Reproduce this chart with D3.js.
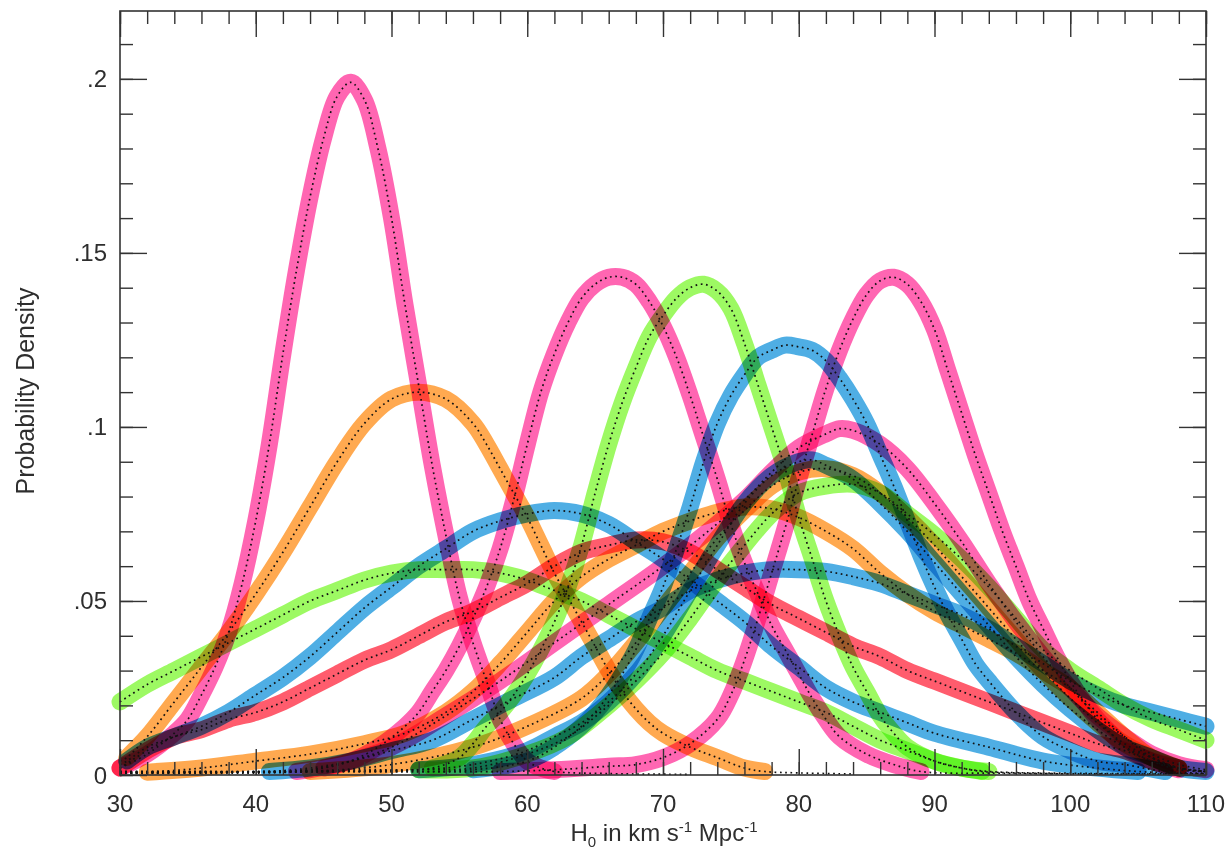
<!DOCTYPE html>
<html><head><meta charset="utf-8">
<script src="https://cdn.jsdelivr.net/npm/d3@7"></script>
<style>
body{margin:0;background:#fff}
svg{display:block}
text{font-family:"Liberation Sans",Arial,Helvetica,sans-serif;fill:#2e2e2e}
</style>
</head><body>
<svg id="chart" width="1230" height="858"></svg>
<script>
// ---- data (H0 value, probability density) ----
const xTicks = [30,40,50,60,70,80,90,100,110];
const yTicks = [0,0.05,0.1,0.15,0.2];
const yTickLabels = ["0",".05",".1",".15",".2"];

const pink1 = [[30,0.002],[32,0.006],[34,0.012],[35,0.016],[36,0.023],[37,0.031],[38,0.041],[39,0.055],[40,0.073],[41,0.095],[42,0.121],[43,0.145],[44,0.166],[45,0.183],[46,0.195],[47,0.199],[48,0.194],[49,0.180],[50,0.160],[51,0.135],[52,0.112],[53,0.089],[54,0.069],[55,0.051],[56,0.038],[57,0.027],[58,0.016],[59,0.009],[60,0.004],[61,0.002],[62,0.001],[66,0.0004],[72,0.0002]];
const orange1 = [[30,0.004],[30.5,0.005],[32,0.011],[34,0.021],[36,0.031],[38,0.041],[40,0.052],[42,0.064],[44,0.077],[46,0.090],[48,0.101],[50,0.108],[52,0.110],[54,0.108],[56,0.101],[57,0.095],[58,0.088],[59,0.081],[60,0.074],[61,0.066],[62,0.058],[63,0.051],[64,0.044],[65,0.037],[66,0.030],[67,0.024],[68,0.019],[69,0.015],[70,0.012],[72,0.008],[74,0.005],[76,0.002],[77.5,0.001],[80,0.0006],[84,0.0003]];
const green1 = [[30,0.021],[32,0.026],[34,0.030],[36,0.034],[38,0.038],[40,0.042],[42,0.046],[44,0.050],[46,0.053],[48,0.056],[50,0.058],[52,0.059],[54,0.059],[56,0.059],[58,0.058],[60,0.056],[62,0.053],[64,0.050],[66,0.046],[68,0.042],[70,0.038],[72,0.034],[74,0.030],[76,0.027],[78,0.024],[80,0.021],[82,0.018],[84,0.014],[86,0.010],[88,0.007],[90,0.004],[92,0.002],[93.5,0.001],[96,0.0006],[100,0.0003]];
const blue1 = [[30,0.003],[30.5,0.004],[32,0.008],[34,0.011],[36,0.014],[38,0.018],[40,0.023],[42,0.028],[44,0.034],[46,0.041],[48,0.048],[50,0.054],[52,0.060],[54,0.065],[56,0.070],[58,0.073],[60,0.075],[62,0.076],[64,0.075],[66,0.072],[68,0.067],[70,0.062],[72,0.056],[74,0.050],[76,0.044],[78,0.037],[80,0.031],[82,0.025],[84,0.021],[86,0.018],[88,0.015],[90,0.012],[94,0.008],[98,0.004],[102,0.002],[105,0.001],[108,0.0005]];
const red1 = [[30,0.002],[32,0.007],[34,0.011],[36,0.013],[38,0.016],[40,0.018],[42,0.021],[44,0.025],[46,0.029],[48,0.033],[50,0.036],[52,0.040],[54,0.044],[56,0.047],[58,0.051],[60,0.055],[62,0.060],[64,0.064],[66,0.066],[68,0.0675],[70,0.067],[72,0.064],[74,0.059],[76,0.054],[78,0.049],[80,0.045],[82,0.041],[84,0.037],[86,0.034],[88,0.030],[90,0.027],[92,0.024],[94,0.021],[96,0.018],[98,0.015],[100,0.012],[102,0.009],[104,0.007],[106,0.004],[108,0.002],[110,0.001]];
const pink2 = [[30,0.0005],[38,0.0008],[42,0.001],[45,0.002],[47,0.004],[49,0.008],[51,0.014],[52,0.018],[53,0.024],[54,0.030],[55,0.037],[56,0.045],[57,0.054],[58,0.065],[59,0.079],[60,0.095],[61,0.110],[62,0.121],[63,0.130],[64,0.137],[65,0.141],[66,0.143],[67,0.143],[68,0.141],[69,0.136],[70,0.129],[71,0.120],[72,0.109],[73,0.097],[74,0.085],[75,0.072],[76,0.061],[77,0.052],[78,0.043],[79,0.036],[80,0.029],[81,0.022],[82,0.016],[83,0.011],[85,0.006],[87,0.003],[89,0.001],[95,0.0005],[110,0.0002]];
const green2 = [[30,0.001],[40,0.001],[48,0.0015],[53,0.002],[55,0.005],[56,0.009],[57,0.014],[58,0.018],[59,0.023],[60,0.029],[61,0.036],[62,0.044],[63,0.054],[64,0.066],[65,0.081],[66,0.095],[67,0.107],[68,0.117],[69,0.126],[70,0.132],[71,0.137],[72,0.140],[73,0.141],[74,0.139],[75,0.134],[76,0.124],[77,0.112],[78,0.100],[79,0.088],[80,0.074],[81,0.062],[82,0.050],[83,0.040],[84,0.031],[85,0.024],[86,0.017],[87,0.012],[88,0.008],[90,0.004],[92,0.002],[94,0.001],[100,0.0005],[110,0.0003]];
const blue2 = [[30,0.001],[45,0.001],[56,0.0015],[60,0.004],[62,0.008],[64,0.014],[65,0.018],[66,0.023],[67,0.029],[68,0.036],[69,0.045],[70,0.054],[71,0.065],[72,0.077],[73,0.090],[74,0.101],[75,0.109],[76,0.115],[77,0.120],[78,0.122],[79,0.1235],[80,0.123],[81,0.122],[82,0.119],[83,0.114],[84,0.108],[85,0.101],[86,0.092],[87,0.083],[88,0.073],[89,0.063],[90,0.054],[91,0.046],[92,0.039],[93,0.032],[94,0.027],[96,0.018],[98,0.011],[100,0.007],[102,0.004],[104,0.003],[107,0.001],[110,0.0005]];
const pink3 = [[30,0.0008],[45,0.001],[58,0.001],[62,0.0015],[66,0.0025],[68,0.003],[70,0.005],[72,0.009],[74,0.016],[75,0.023],[76,0.033],[77,0.045],[78,0.058],[79,0.071],[80,0.085],[81,0.098],[82,0.111],[83,0.122],[84,0.131],[85,0.138],[86,0.142],[87,0.143],[88,0.141],[89,0.136],[90,0.128],[91,0.116],[92,0.104],[93,0.092],[94,0.081],[95,0.070],[96,0.060],[97,0.050],[98,0.042],[99,0.034],[100,0.027],[101,0.021],[102,0.016],[103,0.012],[104,0.008],[106,0.004],[108,0.0015],[110,0.001]];
const pink4 = [[30,0.0005],[38,0.0005],[43,0.001],[46,0.003],[50,0.008],[54,0.017],[58,0.027],[62,0.038],[66,0.049],[70,0.060],[73,0.069],[76,0.079],[78,0.087],[80,0.094],[82,0.098],[83,0.0995],[84,0.099],[86,0.095],[88,0.088],[90,0.078],[92,0.067],[94,0.055],[96,0.044],[98,0.034],[100,0.025],[102,0.017],[104,0.011],[106,0.006],[108,0.003],[110,0.0015]];
const blue3 = [[30,0.001],[45,0.001],[52,0.0015],[56,0.003],[60,0.007],[62,0.011],[64,0.015],[66,0.021],[68,0.029],[70,0.040],[72,0.053],[74,0.066],[76,0.078],[78,0.086],[80,0.090],[81,0.0905],[82,0.089],[84,0.085],[86,0.078],[88,0.070],[90,0.061],[92,0.052],[94,0.043],[96,0.034],[98,0.026],[100,0.019],[102,0.013],[104,0.008],[106,0.005],[108,0.002],[110,0.001]];
const green3 = [[30,0.0008],[45,0.001],[52,0.0015],[56,0.002],[60,0.006],[63,0.011],[66,0.020],[68,0.027],[70,0.035],[72,0.045],[74,0.056],[76,0.066],[78,0.075],[80,0.081],[82,0.083],[84,0.0835],[86,0.081],[88,0.075],[90,0.069],[92,0.062],[94,0.054],[96,0.045],[98,0.036],[100,0.030],[102,0.025],[104,0.020],[106,0.016],[108,0.013],[110,0.010]];
const orange2 = [[30,0.0005],[32,0.0008],[36,0.002],[40,0.004],[44,0.006],[48,0.009],[51,0.012],[54,0.018],[56,0.024],[58,0.032],[60,0.041],[62,0.050],[64,0.057],[66,0.062],[68,0.066],[70,0.070],[72,0.073],[74,0.0755],[76,0.077],[78,0.0765],[80,0.074],[82,0.070],[84,0.065],[86,0.058],[88,0.052],[90,0.047],[92,0.043],[94,0.039],[96,0.035],[98,0.030],[100,0.025],[102,0.018],[104,0.011],[106,0.005],[108,0.002],[110,0.001]];
const orange3 = [[30,0.0005],[40,0.0008],[44,0.001],[50,0.003],[56,0.008],[60,0.014],[64,0.022],[66,0.029],[68,0.038],[70,0.048],[72,0.058],[74,0.068],[76,0.076],[78,0.083],[80,0.087],[82,0.088],[84,0.086],[86,0.081],[88,0.074],[90,0.066],[92,0.057],[94,0.048],[96,0.039],[98,0.030],[100,0.022],[102,0.015],[104,0.009],[106,0.005],[108,0.002],[110,0.001]];
const blue4 = [[30,0.0005],[38,0.0008],[41,0.001],[44,0.002],[47,0.004],[50,0.007],[53,0.010],[56,0.016],[59,0.022],[62,0.028],[64,0.034],[66,0.039],[68,0.044],[70,0.048],[72,0.053],[74,0.056],[76,0.058],[78,0.059],[80,0.059],[82,0.0585],[84,0.057],[86,0.055],[88,0.052],[90,0.049],[92,0.046],[94,0.042],[96,0.037],[98,0.032],[100,0.027],[102,0.023],[104,0.020],[106,0.018],[108,0.016],[110,0.014]];

// x-range over which each curve was highlighted with marker colour
const seriesData   = [green1,blue1,red1,orange1,pink1,orange2,blue4,orange3,pink4,green3,blue3,green2,blue2,pink2,pink3];
const seriesColors = ["green","blue","red","orange","pink","orange","blue","orange","pink","green","blue","green","blue","pink","pink"];
const markedRanges = [[30,93.5],[30.5,105],[30,108],[30.5,77.5],[30,62],[32,108],[41,110],[44,108],[43,110],[52,110],[52,110],[53,94],[56,107],[45,89],[58,109]];

const palette = {pink:"#ff3f9f", orange:"#ff9424", green:"#84f83c", blue:"#229ade", red:"#ff3348"};

// ---- layout ----
const svg = d3.select("#chart");
const L = 120, R = 1206, T = 11, B = 775;
const x = d3.scaleLinear().domain([30,110]).range([L,R]);
const y = d3.scaleLinear().domain([0,0.2195]).range([B,T]);

const line = d3.line().x(d=>x(d[0])).y(d=>y(Math.max(0,d[1]))).curve(d3.curveCatmullRom.alpha(0.5));

// coloured marker strokes
const gMark = svg.append("g");
seriesData.forEach((d,i)=>{
  const [a,b] = markedRanges[i];
  const pts = d.filter(p=>p[0]>=a && p[0]<=b);
  gMark.append("path")
    .attr("d", line(pts))
    .attr("fill","none")
    .attr("stroke", palette[seriesColors[i]])
    .attr("stroke-width", 17)
    .attr("stroke-linecap","round")
    .attr("stroke-linejoin","round")
    .attr("opacity", 0.8)
    .style("mix-blend-mode","multiply");
});

// dotted model curves
const gDot = svg.append("g");
seriesData.forEach((d,i)=>{
  gDot.append("path")
    .attr("d", line(d))
    .attr("fill","none")
    .attr("stroke","#111")
    .attr("stroke-width",1.7)
    .attr("stroke-dasharray","1.7,3.6");
});

// ---- axes (ticks pointing inward on all sides) ----
const axColor = "#333";
function styleAxis(g){ g.select(".domain").remove(); g.selectAll("line").attr("stroke",axColor).attr("stroke-width",1.4); g.selectAll("text").remove(); }
const xMinor = d3.range(30,111,2), yMinor = d3.range(0,0.2195,0.01);
svg.append("g").attr("transform",`translate(0,${B})`).call(d3.axisBottom(x).tickValues(xMinor).tickSize(-13)).call(styleAxis);
svg.append("g").attr("transform",`translate(0,${B})`).call(d3.axisBottom(x).tickValues(xTicks).tickSize(-26)).call(styleAxis);
svg.append("g").attr("transform",`translate(0,${T})`).call(d3.axisTop(x).tickValues(xMinor).tickSize(-13)).call(styleAxis);
svg.append("g").attr("transform",`translate(0,${T})`).call(d3.axisTop(x).tickValues(xTicks).tickSize(-26)).call(styleAxis);
svg.append("g").attr("transform",`translate(${L},0)`).call(d3.axisLeft(y).tickValues(yMinor).tickSize(-13)).call(styleAxis);
svg.append("g").attr("transform",`translate(${L},0)`).call(d3.axisLeft(y).tickValues(yTicks).tickSize(-27)).call(styleAxis);
svg.append("g").attr("transform",`translate(${R},0)`).call(d3.axisRight(y).tickValues(yMinor).tickSize(-13)).call(styleAxis);
svg.append("g").attr("transform",`translate(${R},0)`).call(d3.axisRight(y).tickValues(yTicks).tickSize(-27)).call(styleAxis);
svg.append("rect").attr("x",L).attr("y",T).attr("width",R-L).attr("height",B-T)
  .attr("fill","none").attr("stroke",axColor).attr("stroke-width",1.6);

// tick labels
svg.append("g").selectAll("text").data(xTicks).join("text")
  .attr("x",d=>x(d)).attr("y",812).attr("text-anchor","middle")
  .attr("font-size",24).text(d=>d);
svg.append("g").selectAll("text").data(yTicks).join("text")
  .attr("x",107).attr("y",d=>y(d)+8.5).attr("text-anchor","end")
  .attr("font-size",24).text((d,i)=>yTickLabels[i]);

// axis titles
svg.append("text").attr("transform","translate(34,391) rotate(-90)")
  .attr("text-anchor","middle").attr("font-size",25).text("Probability Density");
const xt = svg.append("text").attr("x",664).attr("y",841).attr("text-anchor","middle").attr("font-size",24);
xt.append("tspan").text("H");
xt.append("tspan").attr("font-size",15).attr("dy",6).text("0");
xt.append("tspan").attr("dy",-6).text(" in km s");
xt.append("tspan").attr("font-size",15).attr("dy",-9).text("-1");
xt.append("tspan").attr("dy",9).text(" Mpc");
xt.append("tspan").attr("font-size",15).attr("dy",-9).text("-1");
</script>
</body></html>
